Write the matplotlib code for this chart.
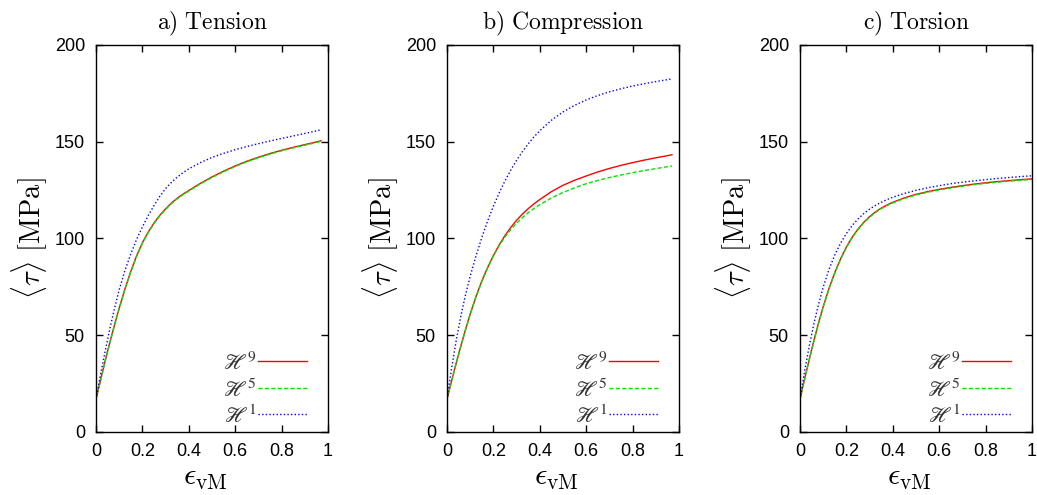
import matplotlib
matplotlib.use("Agg")
import matplotlib.pyplot as plt

# ---------------- data ----------------
titles = ["a) Tension", "b) Compression", "c) Torsion"]
series_labels = ["9", "5", "1"]

x_ab = [0, 0.02, 0.04, 0.06, 0.08, 0.1, 0.125, 0.15, 0.175, 0.2, 0.225, 0.25, 0.275,
        0.3, 0.325, 0.35, 0.375, 0.4, 0.45, 0.5, 0.55, 0.6, 0.65, 0.7, 0.75, 0.8,
        0.85, 0.9, 0.95, 0.97]
x_c = [0, 0.02, 0.04, 0.06, 0.08, 0.1, 0.125, 0.15, 0.175, 0.2, 0.225, 0.25, 0.275,
       0.3, 0.325, 0.35, 0.375, 0.4, 0.45, 0.5, 0.55, 0.6, 0.65, 0.7, 0.75, 0.8,
       0.85, 0.9, 0.95, 1.0]

# Tension
ten_h9 = [17, 27, 37, 46.5, 55.5, 64, 74, 83, 91, 97.8, 103.3, 108, 112, 115.3,
          118.3, 120.8, 122.9, 124.8, 128.5, 131.8, 134.8, 137.5, 139.9, 142, 143.9,
          145.6, 147.1, 148.5, 149.9, 150.5]
ten_h5 = [17, 26.8, 36.8, 46.2, 55.2, 63.7, 73.7, 82.7, 90.7, 97.5, 103, 107.7, 111.7,
          115, 118, 120.5, 122.6, 124.5, 128.2, 131.5, 134.5, 137.2, 139.6, 141.7,
          143.6, 145.3, 146.8, 148.2, 149.6, 150.2]
ten_h1 = [17, 30, 42, 53.5, 64, 73.5, 83.5, 92, 99.5, 106, 111.8, 117, 121.8, 125.8,
          129, 131.7, 134, 136, 139.2, 141.9, 144, 145.9, 147.5, 149, 150.4, 151.7,
          153, 154.3, 155.6, 156.2]

# Compression
com_h9 = [17, 26.5, 35.8, 44.6, 53, 61, 70, 78, 85, 91.2, 96.7, 101.5, 105.7, 109.4,
          112.6, 115.4, 117.9, 120.1, 124.2, 127.5, 130.1, 132.3, 134.4, 136.2, 137.8,
          139.2, 140.5, 141.7, 142.8, 143.3]
com_h5 = [17, 26.3, 35.6, 44.4, 52.8, 60.8, 69.8, 77.7, 84.7, 90.9, 96.3, 100.8, 104.6,
          107.9, 110.8, 113.3, 115.5, 117.5, 120.9, 123.8, 126.2, 128.3, 130, 131.5,
          132.8, 134, 135.1, 136.1, 137.1, 137.5]
com_h1 = [17, 33, 47.5, 60, 71, 80.5, 91, 100.5, 109, 116.7, 123.6, 129.8, 135.4, 140.4,
          144.9, 148.9, 152.5, 155.7, 161.1, 165.4, 168.8, 171.6, 173.9, 175.8, 177.4,
          178.8, 180, 181.1, 182.1, 182.5]

# Torsion
tor_h9 = [17, 27.5, 37.6, 47.3, 56.4, 64.8, 74.2, 82.4, 89.5, 95.6, 100.7, 104.9, 108.4,
          111.3, 113.7, 115.7, 117.3, 118.7, 121, 122.8, 124.2, 125.4, 126.4, 127.3,
          128.1, 128.8, 129.4, 129.9, 130.4, 130.8]
tor_h5 = [17, 27.2, 37.3, 47, 56.1, 64.5, 73.9, 82.1, 89.2, 95.3, 100.4, 104.6, 108.1,
          111, 113.4, 115.4, 117, 118.4, 120.7, 122.5, 123.9, 125.1, 126.1, 127, 127.8,
          128.5, 129.1, 129.6, 130.1, 130.5]
tor_h1 = [17, 31.5, 44.5, 56, 66, 74.8, 84, 91.5, 97.6, 102.6, 106.7, 110.1, 112.9,
          115.2, 117.1, 118.7, 120.1, 121.3, 123.3, 124.9, 126.2, 127.3, 128.3, 129.1,
          129.8, 130.4, 131, 131.5, 132, 132.4]

panels = [
    (x_ab, [ten_h9, ten_h5, ten_h1]),
    (x_ab, [com_h9, com_h5, com_h1]),
    (x_c, [tor_h9, tor_h5, tor_h1]),
]

x_ticks = [0, 0.2, 0.4, 0.6, 0.8, 1]
x_ticklabels = ["0", "0.2", "0.4", "0.6", "0.8", "1"]
y_ticks = [0, 50, 100, 150, 200]
y_ticklabels = ["0", "50", "100", "150", "200"]

# ---------------- styling ----------------
colors = ["#ff0000", "#00e600", "#0000ff"]
dashes = [None, (3, 1.6), (1, 1.6)]

fig = plt.figure(figsize=(10.37, 4.95), dpi=100)
lefts = [96 / 1037, 447 / 1037, 800 / 1037]
width = 232 / 1037
bottom = (495 - 432) / 495
height = 387 / 495

for i, (xs, ys) in enumerate(panels):
    ax = fig.add_axes([lefts[i], bottom, width, height])
    handles = []
    for j, yv in enumerate(ys):
        lbl = r"$\mathscr{H}^{%s}$" % series_labels[j]
        if dashes[j] is None:
            ln, = ax.plot(xs, yv, color=colors[j], lw=1.0, label=lbl)
        else:
            ln, = ax.plot(xs, yv, color=colors[j], lw=1.0, label=lbl,
                          dashes=dashes[j])
        handles.append(ln)
    ax.set_xlim(0, 1)
    ax.set_ylim(0, 200)
    ax.set_xticks(x_ticks)
    ax.set_xticklabels(x_ticklabels)
    ax.set_yticks(y_ticks)
    ax.set_yticklabels(y_ticklabels)
    ax.tick_params(direction="in", length=5, width=1.0, top=True, right=True,
                   labelsize=13, pad=8)
    for lab in ax.get_xticklabels() + ax.get_yticklabels():
        lab.set_fontfamily("Liberation Sans")
    for s in ax.spines.values():
        s.set_linewidth(1.0)
    ax.set_title(r"$\mathrm{%s}$" % titles[i].replace(" ", r"\ "),
                 fontsize=17, math_fontfamily="cm", pad=11)
    ax.set_ylabel(r"$\langle\tau\rangle\ [\mathrm{MPa}]$", fontsize=20.5,
                  math_fontfamily="cm")
    ax.yaxis.set_label_coords(-0.2, 0.5)
    ax.set_xlabel(r"$\epsilon_{\mathrm{vM}}$", fontsize=22, math_fontfamily="cm")
    ax.xaxis.set_label_coords(0.47, -0.08)
    leg = ax.legend(handles=handles, loc="lower right",
                    bbox_to_anchor=(0.909, 0.015), frameon=False,
                    markerfirst=False, handlelength=2.2, handletextpad=0.05,
                    labelspacing=0.22, borderpad=0, borderaxespad=0,
                    prop={"size": 16, "math_fontfamily": "stix"})
    for t in leg.get_texts():
        t.set_color("#333333")

fig.savefig("out.png", dpi=100)
